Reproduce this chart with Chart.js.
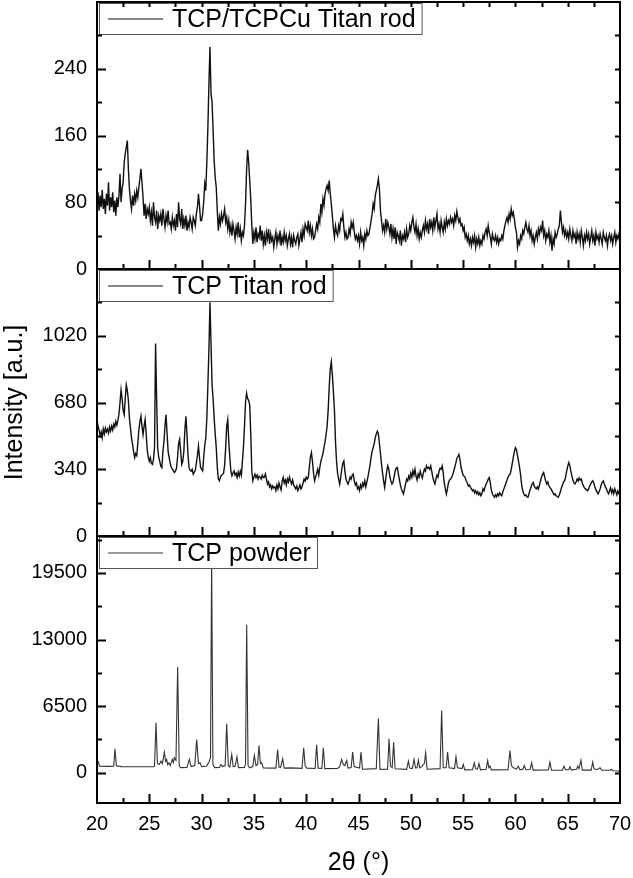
<!DOCTYPE html>
<html>
<head>
<meta charset="utf-8">
<script src="https://cdn.jsdelivr.net/npm/chart.js@4.4.1/dist/chart.umd.min.js"></script>
<style>
  html, body { margin: 0; padding: 0; background: #fff; }
  #xrd { display: block; }
</style>
</head>
<body>
<canvas id="xrd" width="633" height="878"></canvas>
<script>
// 2theta grid of the two rod scans
const startAngle = 20;
const angleStep = 0.1;

// TCP/TCPCu Titan rod, one row per degree (20.0 ... 69.9, then 70.0)
const cuRodCounts = [
  78, 92, 70, 88, 74, 95, 72, 84, 66, 90,
  76, 104, 70, 86, 74, 92, 68, 82, 64, 86,
  74, 88, 114, 80, 96, 104, 128, 138, 146, 154,
  120, 96, 82, 72, 88, 76, 90, 82, 94, 86,
  98, 108, 120, 104, 86, 64, 78, 60, 72, 66,
  74, 58, 68, 52, 80, 62, 56, 70, 48, 64,
  58, 66, 52, 72, 60, 50, 64, 56, 70, 54,
  56, 48, 62, 52, 58, 46, 66, 50, 80, 60,
  54, 72, 48, 60, 52, 64, 46, 56, 50, 62,
  56, 48, 62, 58, 52, 66, 74, 90, 76, 58,
  58, 66, 80, 102, 94, 128, 170, 222, 266, 210,
  200, 166, 130, 110, 98, 70, 46, 62, 54, 66,
  58, 64, 72, 56, 62, 48, 58, 44, 52, 40,
  54, 46, 36, 50, 42, 56, 38, 48, 34, 44,
  40, 52, 78, 118, 143, 128, 106, 84, 52, 30,
  44, 36, 50, 32, 42, 38, 52, 34, 46, 30,
  40, 28, 44, 36, 48, 30, 42, 34, 38, 26,
  36, 44, 30, 40, 34, 46, 28, 38, 32, 44,
  34, 40, 28, 36, 42, 30, 38, 26, 40, 34,
  30, 38, 42, 28, 36, 44, 32, 48, 40, 54,
  50, 46, 58, 44, 52, 40, 48, 36, 38, 46,
  54, 48, 62, 56, 78, 68, 84, 76, 90, 96,
  100, 94, 106, 90, 78, 64, 48, 38, 52, 44,
  40, 52, 46, 60, 58, 66, 50, 38, 44, 36,
  38, 48, 42, 56, 50, 56, 44, 36, 40, 34,
  40, 30, 44, 34, 38, 28, 42, 36, 46, 40,
  42, 50, 58, 66, 78, 72, 88, 94, 100, 108,
  96, 70, 58, 46, 52, 44, 60, 48, 56, 50,
  42, 54, 38, 48, 36, 50, 30, 44, 40, 34,
  46, 28, 40, 36, 44, 32, 48, 38, 42, 52,
  46, 56, 62, 50, 44, 54, 40, 48, 36, 44,
  38, 46, 52, 44, 58, 48, 54, 42, 60, 50,
  56, 46, 62, 50, 58, 66, 48, 54, 44, 58,
  50, 44, 56, 48, 60, 52, 58, 54, 62, 56,
  60, 52, 64, 58, 69, 62, 56, 60, 52, 54,
  46, 50, 38, 42, 34, 40, 30, 36, 28, 38,
  32, 40, 26, 36, 30, 38, 28, 34, 30, 40,
  36, 44, 48, 40, 52, 44, 38, 30, 42, 36,
  34, 40, 32, 38, 30, 36, 34, 40, 36, 46,
  52, 58, 62, 56, 66, 60, 72, 64, 68, 60,
  50, 44, 26, 34, 30, 40, 36, 46, 42, 50,
  56, 48, 44, 52, 40, 46, 34, 40, 30, 38,
  44, 36, 48, 42, 50, 46, 58, 40, 46, 34,
  42, 38, 46, 32, 40, 22, 36, 30, 44, 38,
  42, 48, 52, 70, 56, 44, 50, 40, 46, 38,
  44, 36, 48, 40, 34, 46, 38, 42, 30, 44,
  36, 42, 32, 46, 38, 28, 40, 34, 44, 36,
  42, 30, 38, 46, 34, 40, 28, 44, 36, 40,
  32, 42, 36, 30, 44, 38, 34, 40, 28, 38,
  42, 34, 40, 30, 38, 44, 32, 40, 36, 42,
  36
];

// TCP Titan rod, same grid
const tcpRodCounts = [
  590, 560, 540, 510, 530, 500, 545, 520, 550, 530,
  545, 525, 555, 535, 560, 540, 570, 555, 585, 565,
  590, 620, 680, 744, 700, 640, 618, 700, 769, 740,
  690, 600, 551, 500, 466, 430, 399, 420, 410, 470,
  540, 580, 610, 560, 517, 560, 593, 520, 440, 400,
  380, 399, 370, 365, 390, 450, 980, 700, 450, 400,
  380, 355, 348, 430, 480, 560, 618, 520, 430, 399,
  370, 350, 340, 332, 323, 330, 345, 400, 470, 492,
  430, 365, 380, 430, 540, 610, 520, 410, 348, 335,
  330, 340, 315, 325, 335, 370, 410, 458, 400, 350,
  340, 332, 400, 460, 500, 600, 769, 950, 1190, 980,
  769, 700, 601, 520, 450, 350, 290, 281, 300, 310,
  315, 320, 360, 450, 560, 593, 480, 399, 330, 306,
  320, 332, 310, 320, 298, 325, 305, 330, 310, 380,
  450, 560, 680, 727, 700, 690, 668, 520, 330, 281,
  300, 315, 298, 310, 290, 305, 300, 290, 310, 298,
  300, 315, 290, 264, 275, 250, 260, 240, 255, 245,
  250, 231, 260, 240, 270, 250, 235, 280, 298, 270,
  285, 260, 290, 275, 300, 280, 265, 285, 260, 250,
  240, 255, 231, 245, 260, 239, 250, 270, 290, 280,
  300, 290, 298, 350, 400, 424, 380, 320, 281, 300,
  320, 340, 310, 350, 380, 399, 420, 450, 480, 517,
  560, 640, 760, 850, 887, 820, 736, 640, 483, 380,
  320, 290, 264, 300, 340, 370, 382, 330, 290, 275,
  264, 280, 300, 290, 310, 315, 280, 260, 270, 240,
  250, 231, 260, 245, 270, 255, 281, 250, 275, 300,
  330, 360, 400, 430, 450, 470, 500, 520, 534, 520,
  470, 420, 366, 320, 280, 248, 290, 330, 357, 340,
  300, 280, 265, 275, 300, 330, 345, 349, 320, 290,
  260, 240, 225, 214, 240, 265, 290, 281, 305, 290,
  320, 300, 332, 310, 340, 305, 285, 315, 300, 330,
  310, 295, 320, 340, 330, 357, 345, 350, 340, 357,
  330, 300, 280, 265, 290, 310, 300, 330, 345, 340,
  357, 320, 270, 240, 214, 240, 270, 285, 290, 298,
  310, 330, 350, 370, 395, 405, 416, 390, 350, 330,
  310, 305, 298, 280, 270, 255, 260, 248, 240, 230,
  235, 220, 230, 215, 225, 210, 220, 205, 215, 240,
  230, 250, 265, 275, 290, 298, 270, 235, 215, 205,
  197, 210, 200, 215, 205, 220, 210, 205, 225, 240,
  255, 270, 285, 300, 310, 315, 340, 370, 400, 430,
  450, 440, 410, 380, 349, 310, 260, 230, 214, 205,
  210, 200, 197, 215, 235, 250, 265, 273, 255, 245,
  240, 250, 239, 260, 280, 300, 315, 323, 300, 280,
  265, 275, 255, 248, 240, 230, 220, 210, 215, 205,
  200, 197, 210, 225, 245, 260, 275, 281, 300, 330,
  355, 374, 360, 330, 305, 285, 270, 265, 275, 290,
  280, 295, 285, 290, 270, 255, 245, 240, 235, 231,
  240, 255, 265, 275, 281, 270, 250, 235, 225, 214,
  225, 240, 260, 275, 281, 265, 250, 240, 225, 215,
  230, 245, 220, 235, 215, 240, 225, 210, 230, 215,
  220
];

// TCP powder: angle / counts pairs
const powderAngles = [
  20.0, 20.1, 20.25, 21.0, 21.6, 21.72, 21.85, 22.0, 22.1, 22.3,
  25.4, 25.5, 25.64, 25.78, 25.95, 26.12, 26.25, 26.44, 26.56, 26.66,
  26.76, 26.88, 27.0, 27.2, 27.3, 27.39, 27.55, 27.71, 27.86, 28.0,
  28.6, 28.83, 29.0, 29.35, 29.53, 29.7, 29.85, 30.0, 30.5, 30.74,
  30.85, 30.96, 31.08, 31.25, 31.7, 31.85, 32.0, 32.25, 32.4, 32.55,
  32.7, 32.88, 33.02, 33.2, 33.38, 33.52, 34.1, 34.2, 34.31, 34.44,
  34.6, 34.9, 35.04, 35.2, 35.35, 35.49, 35.62, 35.74, 35.9, 37.1,
  37.27, 37.4, 37.55, 37.75, 37.9, 38.5, 39.6, 39.76, 39.9, 40.05,
  40.85, 41.0, 41.14, 41.5, 41.64, 41.78, 43.0, 43.2, 43.39, 43.55,
  43.7, 43.87, 44.0, 44.3, 44.44, 44.58, 45.1, 45.24, 45.38, 46.7,
  46.9, 47.05, 47.78, 47.92, 48.06, 48.22, 48.36, 48.5, 49.6, 49.77,
  49.9, 50.15, 50.31, 50.45, 50.6, 50.72, 50.85, 51.05, 51.2, 51.3,
  51.42, 51.56, 52.8, 52.95, 53.1, 53.38, 53.52, 53.66, 54.18, 54.32,
  54.46, 54.9, 55.02, 55.16, 55.9, 56.07, 56.2, 56.38, 56.52, 56.66,
  57.2, 57.35, 57.46, 57.57, 57.7, 59.3, 59.48, 59.62, 59.8, 60.1,
  60.28, 60.42, 60.7, 60.85, 61.0, 61.4, 61.55, 61.7, 63.15, 63.3,
  63.45, 64.5, 64.65, 64.8, 65.1, 65.22, 65.35, 65.85, 65.96, 66.08,
  66.27, 66.4, 67.25, 67.39, 67.53, 67.8, 68.09, 68.25, 69.05, 69.2,
  69.35, 70.0
];
const powderCounts = [
  1300, 1100, 650, 620, 640, 2337, 700, 620, 660, 600,
  580, 650, 4870, 900, 800, 1130, 900, 2010, 1100, 1300,
  800, 975, 700, 1300, 1000, 1460, 1200, 10330, 700, 500,
  520, 1300, 600, 700, 3250, 900, 975, 600, 650, 1130,
  1500, 20700, 800, 500, 520, 810, 600, 700, 4770, 700,
  550, 1786, 600, 620, 1558, 500, 520, 900, 14450, 700,
  480, 600, 1690, 700, 800, 2660, 900, 975, 480, 450,
  2270, 550, 500, 1360, 450, 480, 430, 2434, 650, 450,
  420, 2730, 450, 430, 2434, 400, 420, 600, 1300, 800,
  700, 1200, 450, 500, 2010, 600, 450, 2010, 350, 400,
  5290, 330, 350, 3310, 650, 500, 2986, 390, 330, 1135,
  450, 400, 1300, 485, 500, 1230, 485, 600, 810, 900,
  1947, 350, 400, 6070, 485, 500, 2010, 485, 400, 1557,
  485, 400, 810, 280, 300, 972, 390, 350, 907, 280,
  350, 1200, 500, 650, 280, 300, 2175, 700, 485, 350,
  650, 300, 330, 713, 300, 320, 972, 260, 280, 1038,
  240, 260, 650, 300, 300, 583, 260, 350, 650, 400,
  1230, 260, 260, 1038, 390, 300, 485, 250, 260, 320,
  200, 160
];

const seriesNames = ["TCP/TCPCu Titan rod", "TCP Titan rod", "TCP powder"];
const cuRodTicks = [0, 80, 160, 240];
const tcpRodTicks = [0, 340, 680, 1020];
const powderTicks = [0, 6500, 13000, 19500];
const angleTicks = [20, 25, 30, 35, 40, 45, 50, 55, 60, 65, 70];

const FONT = '"Liberation Sans", Arial, Helvetica, sans-serif';
Chart.defaults.font.family = FONT;
Chart.defaults.color = '#000';

function gridPoints(counts) {
  return counts.map((y, i) => ({ x: +(startAngle + i * angleStep).toFixed(2), y: y }));
}

function noPadding(s) {
  s.paddingTop = 0;
  s.paddingBottom = 0;
  s.paddingLeft = 0;
  s.paddingRight = 0;
}

function panelAxis(ticks, min, max, title) {
  return {
    type: 'linear',
    position: 'left',
    stack: 'panels',
    stackWeight: 1,
    min: min,
    max: max,
    afterBuildTicks: s => { s.ticks = ticks.map(v => ({ value: v })); },
    afterFit: s => { s.width = 97; noPadding(s); },
    grid: { display: false, drawTicks: false },
    border: { display: false },
    ticks: { padding: 10, font: { size: 20 }, callback: v => String(v) },
    title: {
      display: !!title,
      text: title || '',
      font: { size: 25 },
      padding: { top: 0, bottom: 0 }
    }
  };
}

// frame, inward ticks and a legend box for every panel
const panelFrames = {
  id: 'panelFrames',
  afterDatasetsDraw(chart) {
    const ctx = chart.ctx;
    const area = chart.chartArea;
    const xs = chart.scales.x;
    const left = area.left, right = area.right;
    const ids = ['yCu', 'yTcp', 'yPowder'];

    ctx.save();
    ids.forEach((id, k) => {
      const s = chart.scales[id];
      const top = s.top, bottom = s.bottom;

      // legend box
      const label = chart.data.datasets[k].label;
      ctx.font = '25px ' + FONT;
      const tw = ctx.measureText(label).width;
      const bx = left + 2, by = top + 1, bh = 31, bw = 73 + tw + 6;
      ctx.fillStyle = '#fff';
      ctx.fillRect(bx, by, bw, bh);
      ctx.strokeStyle = '#555';
      ctx.lineWidth = 1;
      ctx.strokeRect(bx + 0.5, by + 0.5, bw, bh);
      ctx.strokeStyle = chart.data.datasets[k].borderColor;
      ctx.beginPath();
      ctx.moveTo(bx + 9, by + bh / 2 + 0.5);
      ctx.lineTo(bx + 64, by + bh / 2 + 0.5);
      ctx.stroke();
      ctx.fillStyle = '#000';
      ctx.textBaseline = 'middle';
      ctx.textAlign = 'left';
      ctx.fillText(label, bx + 73, by + bh / 2 + 2);

      // frame
      ctx.strokeStyle = '#000';
      ctx.lineWidth = 2;
      ctx.strokeRect(left, top, right - left, bottom - top);

      // y ticks, majors from the scale, minors halfway
      const step = s.ticks[1].value - s.ticks[0].value;
      const yMarks = [];
      s.ticks.forEach(t => {
        yMarks.push({ v: t.value, major: true });
        yMarks.push({ v: t.value + step / 2, major: false });
        yMarks.push({ v: t.value - step / 2, major: false });
      });
      ctx.beginPath();
      yMarks.forEach(m => {
        if (m.v <= s.min || m.v >= s.max) return;
        const py = Math.round(s.getPixelForValue(m.v)) + 0.5;
        const len = m.major ? 9 : 5;
        ctx.moveTo(left, py); ctx.lineTo(left + len, py);
        ctx.moveTo(right, py); ctx.lineTo(right - 5, py);
      });

      // x ticks on the bottom edge, pointing up
      angleTicks.forEach((a, i) => {
        const px = Math.round(xs.getPixelForValue(a)) + 0.5;
        if (a > xs.min && a < xs.max) {
          ctx.moveTo(px, bottom); ctx.lineTo(px, bottom - 9);
        }
        if (i < angleTicks.length - 1) {
          const mx = Math.round(xs.getPixelForValue(a + 2.5)) + 0.5;
          ctx.moveTo(mx, bottom); ctx.lineTo(mx, bottom - 5);
          if (k === 0) { ctx.moveTo(mx, top); ctx.lineTo(mx, top + 5); }
        }
        if (k === 0 && a > xs.min && a < xs.max) {
          ctx.moveTo(px, top); ctx.lineTo(px, top + 5);
        }
      });
      ctx.stroke();
    });
    ctx.restore();
  }
};

const ctx = document.getElementById('xrd').getContext('2d');
new Chart(ctx, {
  type: 'line',
  data: {
    datasets: [
      {
        label: seriesNames[0],
        data: gridPoints(cuRodCounts),
        yAxisID: 'yCu',
        borderColor: '#111',
        borderWidth: 1.4
      },
      {
        label: seriesNames[1],
        data: gridPoints(tcpRodCounts),
        yAxisID: 'yTcp',
        borderColor: '#111',
        borderWidth: 1.4
      },
      {
        label: seriesNames[2],
        data: powderAngles.map((a, i) => ({ x: a, y: powderCounts[i] })),
        yAxisID: 'yPowder',
        borderColor: '#333',
        borderWidth: 1.1
      }
    ]
  },
  options: {
    responsive: false,
    animation: false,
    devicePixelRatio: 1,
    elements: { point: { radius: 0 }, line: { tension: 0 } },
    layout: { padding: { top: 2, right: 13, left: 0, bottom: 0 } },
    plugins: { legend: { display: false }, tooltip: { enabled: false } },
    scales: {
      x: {
        type: 'linear',
        min: 20,
        max: 70,
        afterBuildTicks: s => { s.ticks = angleTicks.map(v => ({ value: v })); },
        afterFit: s => { s.height = 75; noPadding(s); },
        grid: { display: false, drawTicks: false },
        border: { display: false },
        ticks: { padding: 9, font: { size: 20 }, maxRotation: 0, callback: v => String(v) },
        title: {
          display: true,
          text: '2θ (°)',
          font: { size: 25 },
          padding: { top: 0, bottom: 0 }
        }
      },
      yPowder: panelAxis(powderTicks, -2950, 23100),
      yTcp: panelAxis(tcpRodTicks, 0, 1360, 'Intensity [a.u.]'),
      yCu: panelAxis(cuRodTicks, 0, 320)
    }
  },
  plugins: [panelFrames]
});
</script>
</body>
</html>
